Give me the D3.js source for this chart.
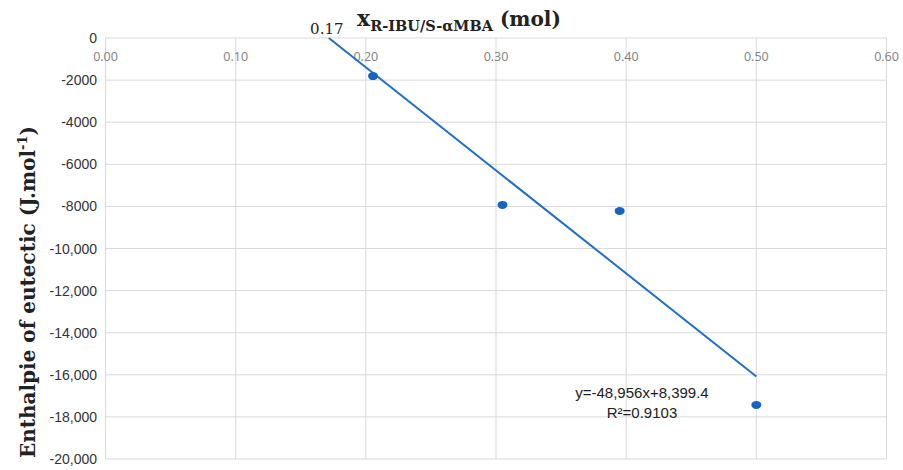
<!DOCTYPE html>
<html><head><meta charset="utf-8">
<script src="https://cdn.jsdelivr.net/npm/d3@7/dist/d3.min.js"></script>
<style>body{margin:0;background:#fff}</style>
</head><body>
<svg id="c" width="903" height="470"></svg>
<script>
const xValues = [0.2055, 0.305, 0.395, 0.50];
const yValues = [-1810, -7930, -8220, -17430];
const xTicks = [0, 0.1, 0.2, 0.3, 0.4, 0.5, 0.6];
const xTickLabels = ["0.00","0.10","0.20","0.30","0.40","0.50","0.60"];
const yTicks = [0,-2000,-4000,-6000,-8000,-10000,-12000,-14000,-16000,-18000,-20000];
const yTickLabels = ["0","-2000","-4000","-6000","-8000","-10,000","-12,000","-14,000","-16,000","-18,000","-20,000"];
const slope = -48956, intercept = 8399.4;
const trendX = [intercept / -slope, 0.5];

const svg = d3.select("#c");
const x = d3.scaleLinear().domain([0, 0.6]).range([105.5, 886.5]);
const y = d3.scaleLinear().domain([0, -20000]).range([38, 459]);

// grid
svg.append("g").selectAll("line").data(xTicks).join("line")
  .attr("x1", d => x(d)).attr("x2", d => x(d)).attr("y1", y(0)).attr("y2", y(-20000))
  .attr("stroke", "#d9d9d9").attr("stroke-width", 1);
svg.append("g").selectAll("line").data(yTicks).join("line")
  .attr("x1", x(0)).attr("x2", x(0.6)).attr("y1", d => y(d)).attr("y2", d => y(d))
  .attr("stroke", "#d9d9d9").attr("stroke-width", 1);

// x tick labels (top, inside)
svg.append("g").selectAll("text").data(xTicks).join("text")
  .attr("x", d => x(d)).attr("y", 61).attr("text-anchor", "middle")
  .attr("font-family", "Open Sans, sans-serif").attr("font-size", 12.5).attr("fill", "#808080")
  .text((d, i) => xTickLabels[i]);

// y tick labels
svg.append("g").selectAll("text").data(yTicks).join("text")
  .attr("x", 97).attr("y", d => y(d) + 5).attr("text-anchor", "end")
  .attr("font-family", "Liberation Sans, Arial, sans-serif").attr("font-size", 14).attr("fill", "#333")
  .text((d, i) => yTickLabels[i]);

// trendline
svg.append("line")
  .attr("x1", x(trendX[0])).attr("y1", y(slope * trendX[0] + intercept))
  .attr("x2", x(trendX[1])).attr("y2", y(slope * trendX[1] + intercept))
  .attr("stroke", "#1f6fc5").attr("stroke-width", 2);

// points
svg.append("g").selectAll("ellipse").data(xValues).join("ellipse")
  .attr("cx", d => x(d)).attr("cy", (d, i) => y(yValues[i]))
  .attr("rx", 5).attr("ry", 4).attr("fill", "#1565c0");

// 0.17 label
svg.append("text").attr("x", x(trendX[0]) - 2).attr("y", 34).attr("text-anchor", "middle")
  .attr("font-family", "DejaVu Serif, serif").attr("font-size", 15).attr("fill", "#222").text("0.17");

// equation
const eq = svg.append("text").attr("font-family", "Liberation Sans, Arial, sans-serif")
  .attr("font-size", 15).attr("fill", "#222").attr("text-anchor", "middle");
eq.append("tspan").attr("x", 642).attr("y", 398).text("y=-48,956x+8,399.4");
eq.append("tspan").attr("x", 642).attr("y", 418).text("R²=0.9103");

// x title
const t = svg.append("text").attr("x", 357).attr("y", 26)
  .attr("font-family", "DejaVu Serif, serif").attr("font-weight", "bold").attr("fill", "#222");
t.append("tspan").attr("font-size", 22).text("x");
t.append("tspan").attr("font-size", 14.5).attr("dy", 5).text("R-IBU/S-αMBA");
t.append("tspan").attr("font-size", 20).attr("dy", -5).text(" (mol)");

// y title
const yt = svg.append("text").attr("transform", "translate(35,292) rotate(-90)").attr("text-anchor", "middle")
  .attr("font-family", "DejaVu Serif, serif").attr("font-weight", "bold")
  .attr("font-size", 20).attr("fill", "#222");
yt.append("tspan").text("Enthalpie of eutectic (J.mol");
yt.append("tspan").attr("font-size", 13).attr("dy", -8).text("-1");
yt.append("tspan").attr("dy", 8).text(")");
</script>
</body></html>
